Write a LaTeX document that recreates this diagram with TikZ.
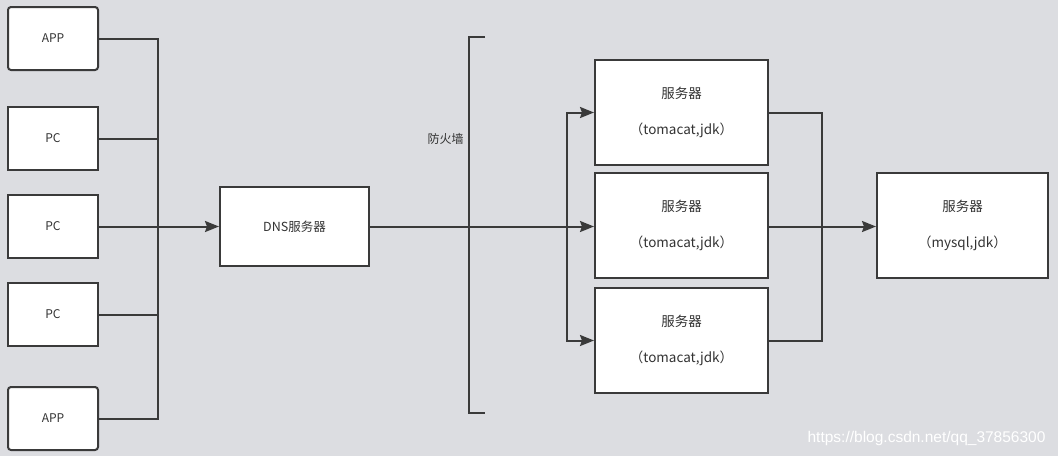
\documentclass[tikz,border=0pt]{standalone}
\usepackage{fontspec}
\setmainfont{Noto Sans CJK SC}
\newfontfamily\wmfont{Liberation Sans}
\usetikzlibrary{arrows.meta}
\definecolor{bg}{HTML}{DCDDE1}
\definecolor{ln}{HTML}{3A3A3A}
\definecolor{tx}{HTML}{333333}
\begin{document}
\begin{tikzpicture}[x=1pt,y=-1pt,
  box/.style={draw=ln,fill=white,line width=2pt,inner sep=0pt,text=tx,align=center},
  client/.style={box,minimum width=90pt,minimum height=63pt,rounded corners=3pt,font=\fontsize{12}{14}\selectfont},
  pcbox/.style={box,minimum width=90pt,minimum height=63pt,font=\fontsize{12}{14}\selectfont},
  srvbox/.style={box,minimum width=173pt,minimum height=105pt,font=\fontsize{13.5}{16}\selectfont},
  conn/.style={draw=ln,line width=2pt},
  arr/.style={conn,-{Stealth[length=14pt,width=11pt,inset=2pt]}}]
\useasboundingbox[fill=bg] (0,0) rectangle (1058,456);
% clients
\node[client] (app1) at (53,38.5) {APP};
\node[pcbox] (pc1) at (53,138.5) {PC};
\node[pcbox] (pc2) at (53,226.5) {PC};
\node[pcbox] (pc3) at (53,314.5) {PC};
\node[client] (app2) at (53,418.5) {APP};
% DNS
\node[box,minimum width=149pt,minimum height=79pt,font=\fontsize{12.5}{15}\selectfont] (dns) at (294.5,226.5) {DNS服务器};
% servers
\node[srvbox] (srv1) at (681.5,112.5) {服务器\\[20pt]（tomacat,jdk）};
\node[srvbox] (srv2) at (681.5,225) {服务器\\[20pt]（tomacat,jdk）};
\node[srvbox] (srv3) at (681.5,340.5) {服务器\\[20pt]（tomacat,jdk）};
\node[srvbox,minimum width=171pt] (db) at (962.5,225) {服务器\\[20pt]（mysql,jdk）};
% coordinates
\coordinate (busJ) at (158,226.5);
\coordinate (fwJ) at (482,226.5);
\coordinate (brJ) at (567,226.5);
\coordinate (mJ) at (822,226.5);
% client bus
\draw[conn] (app1.east) -| (busJ) |- (app2.east);
\draw[conn] (pc1.east) -- (pc1.east -| busJ);
\draw[conn] (pc3.east) -- (pc3.east -| busJ);
\draw[arr] (pc2.east) -- (dns.west);
% firewall
\draw[conn] (485,37) -- (469,37) -- (469,413) -- (485,413);
\node[font=\fontsize{12}{14}\selectfont,text=tx] (fwlabel) at (445.5,139) {防火墙};
\draw[conn] (dns.east) -- (fwJ);
\draw[arr] (fwJ) -- (srv2.west |- fwJ);
\draw[arr] (brJ) |- (srv1.west);
\draw[arr] (brJ) |- (srv3.west);
% to database
\draw[conn] (srv1.east) -| (mJ) |- (srv3.east);
\draw[arr] (srv2.east |- mJ) -- (db.west |- mJ);
% watermark
\node[font=\wmfont\fontsize{15.5}{18}\selectfont,text=white,anchor=east] (wm) at (1049,438.5) {https://blog.csdn.net/qq\_37856300};
\end{tikzpicture}
\end{document}
